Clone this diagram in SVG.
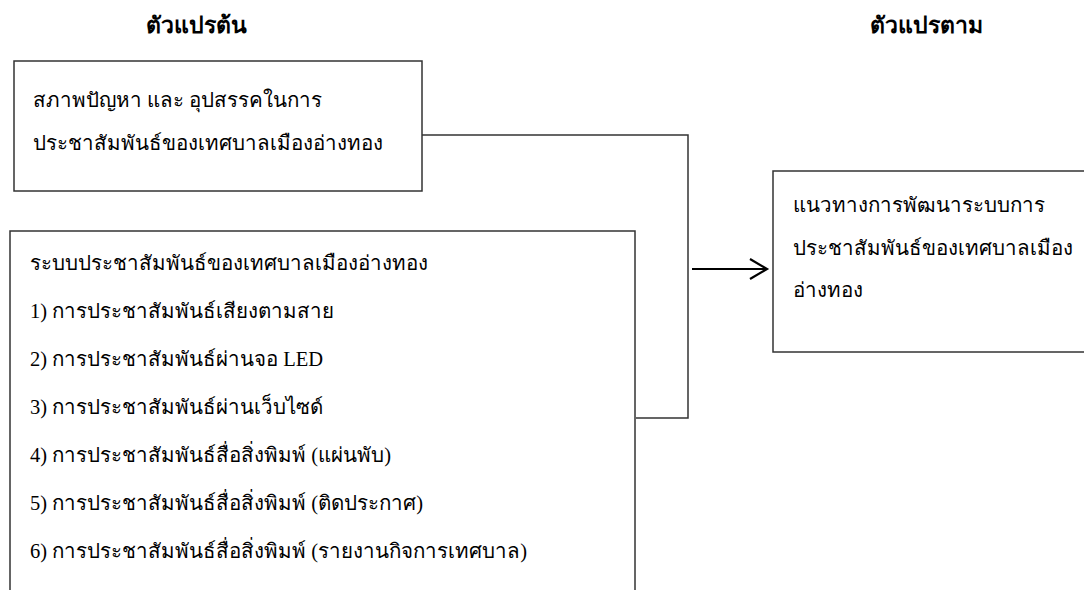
<svg xmlns="http://www.w3.org/2000/svg" width="1084" height="590" viewBox="0 0 1084 590">
<defs>
<style>
.box{fill:#fff;stroke:#333;stroke-width:1.5}
.t{font-family:"Liberation Serif",serif;font-size:20.5px;fill:#000}
.h{font-family:"Liberation Serif",serif;font-size:23px;font-weight:bold;fill:#000}
.c{fill:none;stroke:#333;stroke-width:1.5}
.a{fill:none;stroke:#000;stroke-width:2.2}
</style>
</defs>
<rect width="1084" height="590" fill="#fff"/>
<text class="h" x="196" y="33" text-anchor="middle">ตัวแปรต้น</text>
<text class="h" x="926" y="33" text-anchor="middle">ตัวแปรตาม</text>
<g id="connectors">
<polyline class="c" points="422,135 688,135 688,418 636,418"/>
<line class="a" x1="692" y1="269" x2="767" y2="269"/>
<polyline class="a" points="750,259 767,269 750,279"/>
</g>
<g id="node-problems">
<rect class="box" x="14" y="61" width="408" height="130"/>
<text class="t" x="33" y="107">สภาพปัญหา และ อุปสรรคในการ</text>
<text class="t" x="33" y="150">ประชาสัมพันธ์ของเทศบาลเมืองอ่างทอง</text>
</g>
<g id="node-system">
<rect class="box" x="10" y="231" width="625" height="370"/>
<text class="t" x="30" y="270">ระบบประชาสัมพันธ์ของเทศบาลเมืองอ่างทอง</text>
<text class="t" x="30" y="318">1) การประชาสัมพันธ์เสียงตามสาย</text>
<text class="t" x="30" y="366">2) การประชาสัมพันธ์ผ่านจอ LED</text>
<text class="t" x="30" y="414">3) การประชาสัมพันธ์ผ่านเว็บไซด์</text>
<text class="t" x="30" y="462">4) การประชาสัมพันธ์สื่อสิ่งพิมพ์ (แผ่นพับ)</text>
<text class="t" x="30" y="510">5) การประชาสัมพันธ์สื่อสิ่งพิมพ์ (ติดประกาศ)</text>
<text class="t" x="30" y="558">6) การประชาสัมพันธ์สื่อสิ่งพิมพ์ (รายงานกิจการเทศบาล)</text>
</g>
<g id="node-guideline">
<rect class="box" x="773" y="171" width="320" height="181"/>
<text class="t" x="793" y="212">แนวทางการพัฒนาระบบการ</text>
<text class="t" x="793" y="255">ประชาสัมพันธ์ของเทศบาลเมือง</text>
<text class="t" x="793" y="297">อ่างทอง</text>
</g>
</svg>
